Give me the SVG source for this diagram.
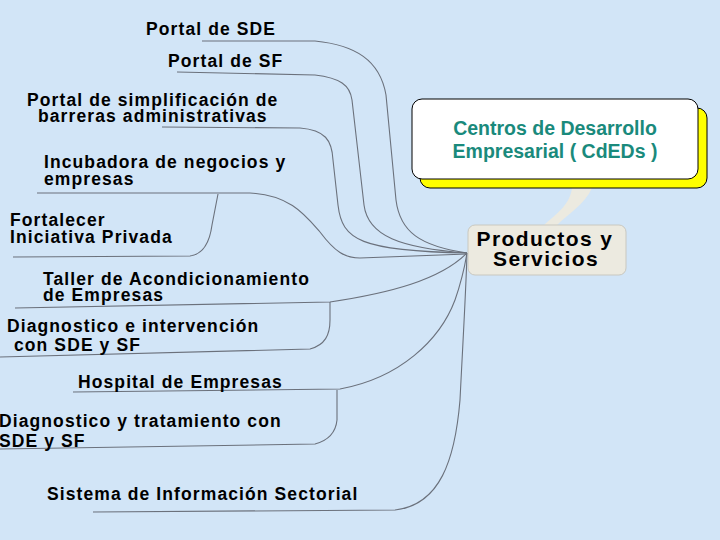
<svg xmlns="http://www.w3.org/2000/svg" width="720" height="540" viewBox="0 0 720 540">
<defs>
<style>
.lbl{font-family:"Liberation Sans",Arial,sans-serif;font-weight:bold;font-size:17.5px;letter-spacing:1.1px;fill:#000}
.cn{fill:none;stroke:#6B717C;stroke-width:1.1}
.hub{font-family:"Liberation Sans",Arial,sans-serif;font-weight:bold;font-size:21px;letter-spacing:1.4px;fill:#000}
.ced{font-family:"Liberation Sans",Arial,sans-serif;font-weight:bold;font-size:19.5px;fill:#1A8A7C}
</style>
</defs>
<rect x="0" y="0" width="720" height="540" fill="#D2E5F7"/>

<g id="connectors">
<path class="cn" d="M202,41 L315,41 C355,45 380,60 386,95 L396,200 C400,232 420,246 467,253"/>
<path class="cn" d="M177,72 L315,75 C340,78 350,85 352,100 L364,205 C368,236 400,248 467,253"/>
<path class="cn" d="M162,127 L300,128 C325,130 332,140 333,160 L338,205 C342,240 360,251 467,253"/>
<path class="cn" d="M37,193 L250,193 C290,195 305,215 320,232 C335,252 345,258 360,258 L467,254"/>
<path class="cn" d="M13,257 L190,256 C205,254 210,240 212,225 L218,194"/>
<path class="cn" d="M15,308 L330,302 C390,293 440,280 467,253"/>
<path class="cn" d="M0,357 L310,349 C325,345 330,335 330,320 L330,302"/>
<path class="cn" d="M73,392 L340,389 C400,378 440,340 455,300 C462,280 465,265 467,253"/>
<path class="cn" d="M0,449 L315,444 C330,440 336,430 337,420 L337,390"/>
<path class="cn" d="M93,512 L395,510 C440,505 455,460 460,400 C463,340 466,290 467,253"/>
<path d="M572,188 C570,205 556,214 543,226 L556,226 C568,214 585,204 592,188 Z" fill="#ECEAE0"/>
</g>

<g id="cdeds">
<rect x="420" y="108" width="287" height="80" rx="10" fill="#FFFF00" stroke="#000" stroke-width="1"/>
<rect x="412" y="99" width="286" height="80" rx="10" fill="#FFFFFF" stroke="#000" stroke-width="1"/>
<text class="ced" x="555" y="135" text-anchor="middle">Centros de Desarrollo</text>
<text class="ced" x="555" y="158" text-anchor="middle">Empresarial ( CdEDs )</text>
</g>

<g id="productos">
<rect x="468" y="225" width="158" height="50" rx="7" fill="#ECEAE0" stroke="#C9C8C0" stroke-width="1"/>
<text class="hub" x="545" y="246" text-anchor="middle">Productos y</text>
<text class="hub" x="546" y="266" text-anchor="middle">Servicios</text>
</g>

<g id="portal-sde"><text class="lbl" x="146" y="35">Portal de SDE</text></g>
<g id="portal-sf"><text class="lbl" x="168" y="67">Portal de SF</text></g>
<g id="portal-simplificacion">
<text class="lbl" x="27" y="106">Portal de simplificación de</text>
<text class="lbl" x="38" y="122">barreras administrativas</text>
</g>
<g id="incubadora">
<text class="lbl" x="44" y="168">Incubadora de negocios y</text>
<text class="lbl" x="44" y="185">empresas</text>
</g>
<g id="fortalecer">
<text class="lbl" x="10" y="226">Fortalecer</text>
<text class="lbl" x="10" y="243">Iniciativa Privada</text>
</g>
<g id="taller">
<text class="lbl" x="43" y="285">Taller de Acondicionamiento</text>
<text class="lbl" x="43" y="301">de Empresas</text>
</g>
<g id="diag-intervencion">
<text class="lbl" x="7" y="332">Diagnostico e intervención</text>
<text class="lbl" x="14" y="351">con SDE y SF</text>
</g>
<g id="hospital"><text class="lbl" x="78" y="388">Hospital de Empresas</text></g>
<g id="diag-tratamiento">
<text class="lbl" x="-1" y="427">Diagnostico y tratamiento con</text>
<text class="lbl" x="-1" y="447">SDE y SF</text>
</g>
<g id="sistema"><text class="lbl" x="47" y="500">Sistema de Información Sectorial</text></g>
</svg>
